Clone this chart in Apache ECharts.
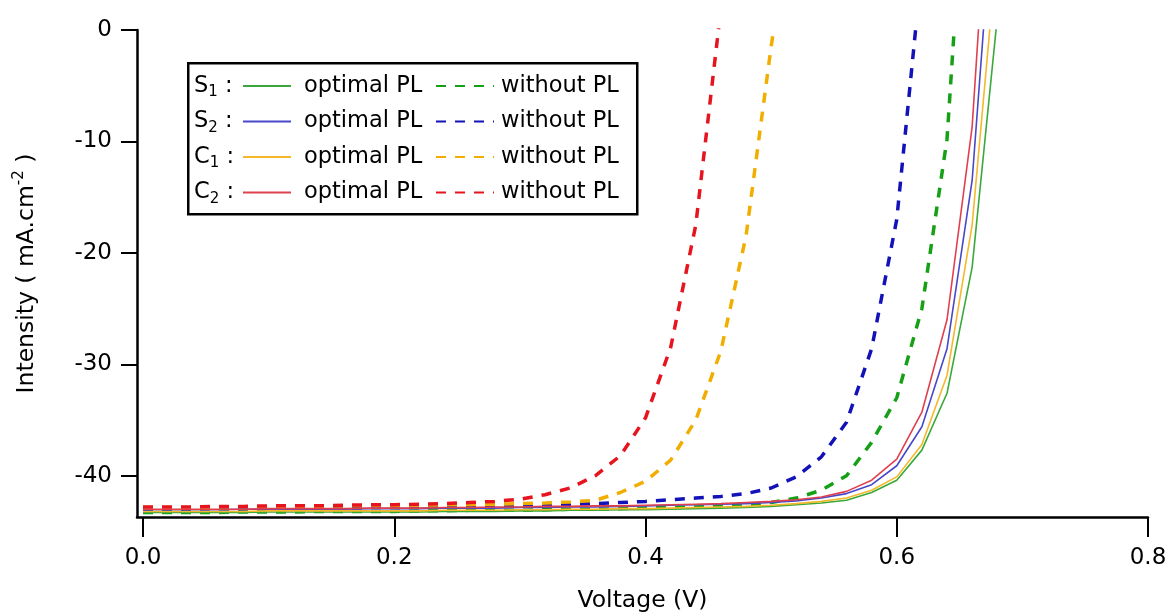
<!DOCTYPE html>
<html>
<head>
<meta charset="utf-8">
<title>J-V curves</title>
<script src="https://cdn.jsdelivr.net/npm/echarts@6/dist/echarts.min.js"></script>
<style>
  html, body { margin: 0; padding: 0; background: #fff; }
  #chart { width: 1171px; height: 614px; }
</style>
</head>
<body>
<div id="chart"></div>
<script>
// 电压 (V), 步长 0.02
var voltage = [0, 0.02, 0.04, 0.06, 0.08, 0.1, 0.12, 0.14, 0.16, 0.18, 0.2, 0.22, 0.24, 0.26, 0.28, 0.3,
  0.32, 0.34, 0.36, 0.38, 0.4, 0.42, 0.44, 0.46, 0.48, 0.5, 0.52, 0.54, 0.56, 0.58, 0.6, 0.62, 0.64, 0.66, 0.68]

// optimal PL (实线)
var s1Optimal = [-43.3, -43.3, -43.3, -43.3, -43.3, -43.25, -43.25, -43.25, -43.25, -43.25, -43.25, -43.25, -43.2, -43.2, -43.2, -43.15,
  -43.15, -43.1, -43.1, -43.05, -43.05, -43.0, -42.95, -42.9, -42.85, -42.75, -42.6, -42.45, -42.2, -41.5, -40.4, -37.7, -32.6, -21.3, 1.1]
var s2Optimal = [-43.05, -43.05, -43.05, -43.05, -43.0, -43.0, -43.0, -43.0, -43.0, -42.95, -42.95, -42.95, -42.9, -42.9, -42.9, -42.85,
  -42.85, -42.8, -42.8, -42.75, -42.7, -42.65, -42.6, -42.55, -42.5, -42.4, -42.25, -42.0, -41.6, -40.8, -39.1, -35.6, -28.6, -13.5, 16.5]
var c1Optimal = [-43.2, -43.2, -43.2, -43.2, -43.2, -43.15, -43.15, -43.15, -43.15, -43.15, -43.15, -43.15, -43.1, -43.1, -43.1, -43.05,
  -43.05, -43.0, -43.0, -42.95, -42.95, -42.9, -42.85, -42.8, -42.75, -42.65, -42.5, -42.3, -42.0, -41.3, -40.1, -37.2, -31.0, -17.5, 7.5]
var c2Optimal = [-43.0, -43.0, -43.0, -43.0, -43.0, -42.95, -42.95, -42.95, -42.95, -42.9, -42.9, -42.9, -42.85, -42.85, -42.8, -42.8,
  -42.75, -42.75, -42.7, -42.7, -42.65, -42.6, -42.55, -42.5, -42.4, -42.3, -42.15, -41.9, -41.4, -40.4, -38.5, -34.3, -26.0, -8.7, 26]

// without PL (虚线)
var s1Without = [-43.3, -43.3, -43.3, -43.3, -43.25, -43.25, -43.25, -43.2, -43.2, -43.2, -43.2, -43.15, -43.15, -43.1, -43.1, -43.1,
  -43.05, -43.0, -43.0, -42.95, -42.9, -42.85, -42.8, -42.7, -42.6, -42.4, -42.0, -41.3, -40.0, -37.0, -33.0, -25.0, -9.8, 24.5]
var s2Without = [-43.0, -43.0, -43.0, -42.95, -42.95, -42.95, -42.9, -42.9, -42.9, -42.85, -42.85, -42.8, -42.8, -42.75, -42.7, -42.65,
  -42.6, -42.55, -42.5, -42.4, -42.3, -42.15, -42.0, -41.85, -41.6, -41.1, -40.1, -38.3, -35.2, -28.6, -17.0, 5.7]
var c1Without = [-42.85, -42.85, -42.85, -42.8, -42.8, -42.8, -42.75, -42.75, -42.7, -42.7, -42.7, -42.65, -42.6, -42.6, -42.55, -42.5,
  -42.45, -42.35, -42.2, -41.5, -40.5, -38.6, -35.0, -28.8, -18.5, -1.5, 13.5]
var c2Without = [-42.8, -42.8, -42.8, -42.75, -42.75, -42.7, -42.7, -42.7, -42.65, -42.6, -42.6, -42.55, -42.5, -42.4, -42.3, -42.1,
  -41.7, -41.1, -40.0, -38.2, -34.8, -28.5, -17.5, 1.9]

// 刻度
var xTicks = [0, 0.2, 0.4, 0.6, 0.8]
var yTicks = [0, -10, -20, -30, -40]
var sampleLabels = [['S', '1'], ['S', '2'], ['C', '1'], ['C', '2']]

var FONT = 'DejaVu Sans'
var colors = {
  s1: { solid: '#3aa83a', dash: '#16a016' },
  s2: { solid: '#4848c8', dash: '#1212b8' },
  c1: { solid: '#f5b82a', dash: '#f2ae00' },
  c2: { solid: '#e0404e', dash: '#e6141e' }
}

function pairs(values) {
  return values.map(function (v, i) { return [voltage[i], v] })
}

function makeSeries(name, values, color, dashed) {
  return {
    name: name,
    type: 'line',
    data: pairs(values),
    symbol: 'none',
    clip: true,
    lineStyle: dashed
      ? { color: color, width: 3.5, type: [10, 9] }
      : { color: color, width: 1.6, type: 'solid' },
    itemStyle: { color: color },
    z: dashed ? 2 : 3
  }
}

var solidNames = ['S1 optimal PL', 'S2 optimal PL', 'C1 optimal PL', 'C2 optimal PL']
var dashNames = ['S1 without PL', 'S2 without PL', 'C1 without PL', 'C2 without PL']

var legendText = {
  fontSize: 22.5,
  fontFamily: FONT,
  color: '#000',
  lineHeight: 24
}

function initChart() {
  var myChart = echarts.init(document.getElementById('chart'))

  var graphics = [
    {
      type: 'rect',
      left: 187,
      top: 62,
      shape: { width: 449, height: 151 },
      style: { fill: '#fff', stroke: '#000', lineWidth: 2.5 },
      z: 1
    }
  ]
  sampleLabels.forEach(function (lab, i) {
    graphics.push({
      type: 'text',
      x: 194,
      y: 86 + i * 35.5,
      z: 5,
      style: {
        text: '{b|' + lab[0] + '}{s|' + lab[1] + '}{b| :}',
        verticalAlign: 'middle',
        rich: {
          b: { fontSize: 22.5, fontFamily: FONT, fill: '#000', lineHeight: 28 },
          s: { fontSize: 15, fontFamily: FONT, fill: '#000', lineHeight: 16, verticalAlign: 'bottom' }
        }
      }
    })
  })

  var option = {
    animation: false,
    grid: { left: 137, right: 23, top: 30, bottom: 97, outerBoundsMode: 'none' },
    legend: [
      {
        orient: 'vertical',
        left: 242,
        top: 74,
        padding: 0,
        itemWidth: 48,
        itemHeight: 14,
        itemGap: 11.5,
        selectedMode: false,
        data: solidNames,
        itemStyle: { opacity: 0 },
        formatter: function () { return 'optimal PL' },
        textStyle: Object.assign({ padding: [0, 0, 0, 8] }, legendText),
        z: 5
      },
      {
        orient: 'vertical',
        left: 435,
        top: 74,
        padding: 0,
        itemWidth: 58,
        itemHeight: 14,
        itemGap: 11.5,
        selectedMode: false,
        data: dashNames,
        itemStyle: { opacity: 0 },
        formatter: function () { return 'without PL' },
        textStyle: Object.assign({ padding: [0, 0, 0, 2] }, legendText),
        z: 5
      }
    ],
    xAxis: {
      type: 'value',
      min: -0.0048,
      max: 0.8,
      name: 'Voltage (V)',
      nameLocation: 'middle',
      nameGap: 72,
      nameTextStyle: { fontSize: 23.5, fontFamily: FONT, color: '#000' },
      axisLine: { onZero: false, lineStyle: { color: '#000', width: 2.5 } },
      axisTick: { customValues: xTicks, length: 20, lineStyle: { color: '#000', width: 2 } },
      axisLabel: {
        customValues: xTicks,
        margin: 30,
        fontSize: 23,
        fontFamily: FONT,
        color: '#000',
        formatter: function (v) { return v.toFixed(1) }
      },
      splitLine: { show: false }
    },
    yAxis: {
      type: 'value',
      min: -43.7,
      max: 0,
      name: 'Intensity ( mA.cm{sup|-2} )',
      nameLocation: 'middle',
      nameGap: 95,
      nameTextStyle: {
        fontSize: 23.5,
        fontFamily: FONT,
        color: '#000',
        lineHeight: 30,
        rich: {
          sup: { fontSize: 15, fontFamily: FONT, color: '#000', lineHeight: 14, verticalAlign: 'top' }
        }
      },
      axisLine: { onZero: false, lineStyle: { color: '#000', width: 2.5 } },
      axisTick: { customValues: yTicks, length: 16, lineStyle: { color: '#000', width: 2 } },
      axisLabel: {
        customValues: yTicks,
        margin: 25,
        fontSize: 23,
        fontFamily: FONT,
        color: '#000'
      },
      splitLine: { show: false }
    },
    graphic: graphics,
    series: [
      makeSeries(dashNames[0], s1Without, colors.s1.dash, true),
      makeSeries(dashNames[1], s2Without, colors.s2.dash, true),
      makeSeries(dashNames[2], c1Without, colors.c1.dash, true),
      makeSeries(dashNames[3], c2Without, colors.c2.dash, true),
      makeSeries(solidNames[0], s1Optimal, colors.s1.solid, false),
      makeSeries(solidNames[1], s2Optimal, colors.s2.solid, false),
      makeSeries(solidNames[2], c1Optimal, colors.c1.solid, false),
      makeSeries(solidNames[3], c2Optimal, colors.c2.solid, false)
    ]
  }
  myChart.setOption(option)
  window.addEventListener('resize', function () {
    myChart.resize()
  })
}

initChart()
</script>
</body>
</html>
